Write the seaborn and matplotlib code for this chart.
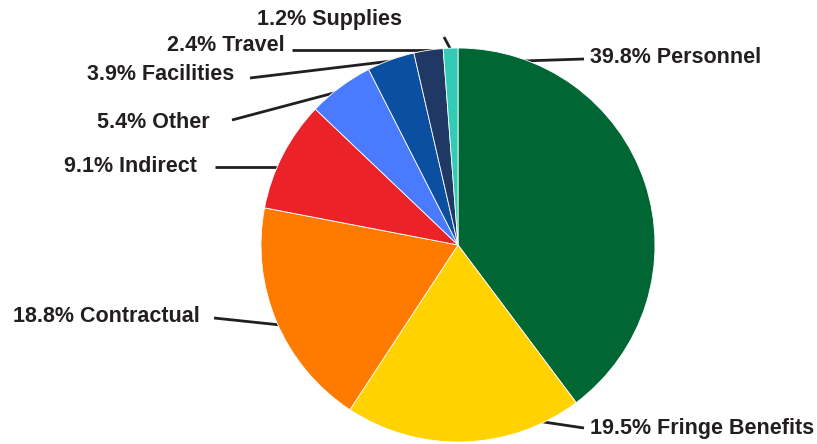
import matplotlib
matplotlib.use("Agg")
import matplotlib.pyplot as plt
import seaborn as sns

categories = ["Personnel", "Fringe Benefits", "Contractual", "Indirect",
              "Other", "Facilities", "Travel", "Supplies"]
percents = [39.8, 19.5, 18.8, 9.1, 5.4, 3.9, 2.4, 1.2]
colors = ["#006633", "#FFD200", "#FF7B00", "#EB2328",
          "#4A7BFF", "#0A4FA0", "#1F3864", "#33CBB5"]

sns.set_theme(style="white")
plt.rcParams['font.family'] = ['Liberation Sans', 'DejaVu Sans']

W, H = 817, 444
fig = plt.figure(figsize=(W / 100, H / 100), dpi=100)
ax = fig.add_axes([0, 0, 1, 1])

cx, cy, r = 458, H - 245, 197
ax.pie(percents, colors=sns.color_palette(colors), startangle=90, counterclock=False,
       center=(cx, cy), radius=r, frame=True,
       wedgeprops=dict(linewidth=0.6, edgecolor="white", zorder=3))
ax.set_xlim(0, W)
ax.set_ylim(0, H)
ax.set_aspect("equal")
ax.axis("off")

# label layout (image pixel coords, y downward): text anchor, alignment, leader line
layout = {
    "Personnel":       ((590, 58), "left",  (584, 59), (522, 61)),
    "Fringe Benefits": ((590, 428), "left", (584, 428), (530, 420)),
    "Contractual":     ((200, 316), "right", (214, 318), (290, 326)),
    "Indirect":        ((197, 166), "right", (215, 167), (290, 167)),
    "Other":           ((210, 122), "right", (232, 120), (345, 90)),
    "Facilities":      ((234, 75), "right", (250, 78), (400, 60)),
    "Travel":          ((285, 46), "right", (292, 50), (445, 50)),
    "Supplies":        ((402, 20), "right", (444, 37), (452, 52)),
}

for cat, pct in zip(categories, percents):
    (tx, ty), ha, (x1, y1), (x2, y2) = layout[cat]
    ax.plot([x1, x2], [H - y1, H - y2], color="#231F20", lw=2, zorder=2,
            solid_capstyle="butt")
    ax.text(tx, H - ty, f"{pct:.1f}% {cat}", ha=ha, va="center",
            fontsize=15.5, fontweight="bold", color="#231F20")

fig.savefig("out.png", dpi=100)
